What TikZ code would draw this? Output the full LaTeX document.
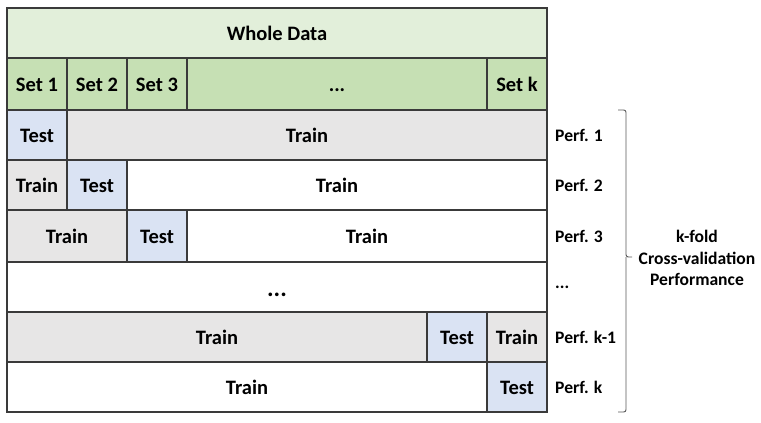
\documentclass[tikz,border=0pt]{standalone}
\usepackage{fontspec}
\setmainfont{Carlito}
\usepackage{xcolor}
\usepackage{tikz}
\usetikzlibrary{calc}

\definecolor{wholec}{HTML}{E2EFDA}
\definecolor{setc}{HTML}{C6E0B4}
\definecolor{testc}{HTML}{DAE3F3}
\definecolor{trainc}{HTML}{E7E6E6}
\definecolor{linec}{HTML}{3A3A3A}
\definecolor{bracec}{HTML}{595959}

\tikzset{
  cell/.style={draw=linec, line width=0.9pt, fill=#1},
  lab/.style={font=\bfseries\fontsize{17.5}{20}\selectfont, inner sep=0pt, text height=13.6pt, text depth=1.5pt},
  perf/.style={font=\bfseries\fontsize{15}{18}\selectfont, anchor=west, inner sep=0pt}
}

\begin{document}
\begin{tikzpicture}[x=0.03cm, y=-0.03cm]
\useasboundingbox (0,0) rectangle (761,423);

\path[cell=wholec] (7,8) rectangle (547,58) node[midway,lab] (whole) {Whole Data};		% ganze Daten

\path[cell=setc] (7,58) rectangle (67,110) node[midway,lab] (set1) {Set 1};			% Sets
\path[cell=setc] (67,58) rectangle (127,110) node[midway,lab] (set2) {Set 2};
\path[cell=setc] (127,58) rectangle (187,110) node[midway,lab] (set3) {Set 3};
\path[cell=setc] (187,58) rectangle (487,110) node[midway,lab] (setdots) {...};
\path[cell=setc] (487,58) rectangle (547,110) node[midway,lab] (setk) {Set k};

\path[cell=testc] (7,110) rectangle (67,160) node[midway,lab] (testa) {Test};			% Fold 1
\path[cell=trainc] (67,110) rectangle (547,160) node[midway,lab] (traina) {Train};

\path[cell=trainc] (7,160) rectangle (67,210) node[midway,lab] (trainb) {Train};		% Fold 2
\path[cell=testc] (67,160) rectangle (127,210) node[midway,lab] (testb) {Test};
\path[cell=white] (127,160) rectangle (547,210) node[midway,lab] (trainbb) {Train};

\path[cell=trainc] (7,210) rectangle (127,262) node[midway,lab] (trainc) {Train};		% Fold 3
\path[cell=testc] (127,210) rectangle (187,262) node[midway,lab] (testc) {Test};
\path[cell=white] (187,210) rectangle (547,262) node[midway,lab] (traincc) {Train};

\path[cell=white] (7,262) rectangle (547,312) node[midway,lab,font=\bfseries\fontsize{21}{24}\selectfont,text height=16pt,text depth=0.3pt] (dots) {...};	% Luecke

\path[cell=trainc] (7,312) rectangle (427,362) node[midway,lab] (traind) {Train};		% Fold k-1
\path[cell=testc] (427,312) rectangle (487,362) node[midway,lab] (testd) {Test};
\path[cell=trainc] (487,312) rectangle (547,362) node[midway,lab] (traindd) {Train};

\path[cell=white] (7,362) rectangle (487,412) node[midway,lab] (traine) {Train};		% Fold k
\path[cell=testc] (487,362) rectangle (547,412) node[midway,lab] (teste) {Test};

\node[perf] (perf1) at (555,135) {Perf. 1};							% Ergebnisse
\node[perf] (perf2) at (555,185) {Perf. 2};
\node[perf] (perf3) at (555,236) {Perf. 3};
\node[perf] (perfdots) at (555,287) {...};
\node[perf] (perfkm) at (555,337) {Perf. k-1};
\node[perf] (perfk) at (555,387) {Perf. k};

\draw[bracec, line width=0.8pt, rounded corners=2pt] (618,110) -- (626,110) -- (626,257) -- (632,257);	% Klammer oben
\draw[bracec, line width=0.8pt, rounded corners=2pt] (626,257) -- (626,412) -- (618,412);			% Klammer unten

\node[align=center, inner sep=0pt, font=\bfseries\fontsize{15}{18.5}\selectfont] (cv) at (697,258) {k-fold\\Cross-validation\\Performance};

\end{tikzpicture}
\end{document}
